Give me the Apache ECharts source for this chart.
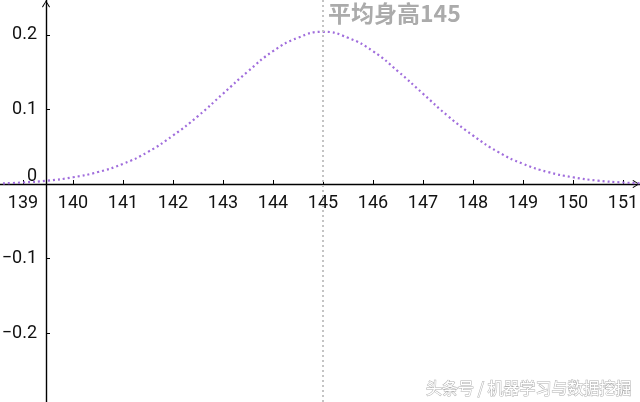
<!DOCTYPE html>
<html>
<head>
<meta charset="utf-8">
<script src="https://cdn.jsdelivr.net/npm/echarts@6/dist/echarts.min.js"></script>
<style>
html,body{margin:0;padding:0;background:#fff;}
#chart{width:640px;height:402px;}
</style>
</head>
<body>
<div id="chart"></div>
<script>
// x values (height) and density
const heights = [138.5,139,139.5,140,140.5,141,141.5,142,142.5,143,143.5,144,144.5,145,145.5,146,146.5,147,147.5,148,148.5,149,149.5,150,150.5,151,151.5];
const density = [0.0007,0.002,0.0045,0.009,0.016,0.027,0.043,0.065,0.091,0.121,0.151,0.178,0.196,0.204,0.196,0.178,0.151,0.121,0.091,0.065,0.043,0.027,0.016,0.009,0.0045,0.002,0.0007];
const xTicks = [139,140,141,142,143,144,145,146,147,148,149,150,151];
const yTicks = [-0.2,-0.1,0,0.1,0.2];
const meanValue = 145;
const titleText = '平均身高145';
const watermark = '头条号 / 机器学习与数据挖掘';

const chart = echarts.init(document.getElementById('chart'));
const arrowPath = 'path://M5,0 L10,8 L9,8.8 L5,1.8 L1,8.8 L0,8 Z';
chart.setOption({
  animation: false,
  backgroundColor: '#fff',
  grid: {left: 0, right: 0, top: 0, bottom: 0, containLabel: false, outerBoundsMode: 'none'},
  xAxis: {
    type: 'value',
    position: 'bottom',
    offset: -218,
    min: 138.54, max: 151.34,
    splitLine: {show: false},
    axisLine: {onZero: false, lineStyle: {color: '#000', width: 1.4}, symbol: ['none', arrowPath], symbolSize: [12, 7], symbolOffset: [0, -4]},
    axisTick: {show: true, inside: true, length: 4, customValues: xTicks, lineStyle: {color: '#000', width: 1}},
    axisLabel: {customValues: xTicks, color: '#111', fontSize: 18, fontFamily: 'Roboto', margin: 10}
  },
  yAxis: {
    type: 'value',
    min: -0.2922, max: 0.2466,
    offset: -46,
    splitLine: {show: false},
    axisLine: {show: true, lineStyle: {color: '#000', width: 1.4}, symbol: ['none', arrowPath], symbolSize: [12, 7], symbolOffset: [0, -4]},
    axisTick: {show: true, inside: true, length: 4, customValues: yTicks.filter(v => v !== 0), lineStyle: {color: '#000', width: 1}},
    axisLabel: {
      customValues: yTicks, color: '#111', fontSize: 18, fontFamily: 'Roboto', margin: 9,
      formatter: function (v) {
        if (Math.abs(v) < 1e-9) return '{z|0}';
        return (v < 0 ? '\u2212' : '') + Math.abs(v).toFixed(1);
      },
      rich: {z: {fontSize: 18, fontFamily: 'Roboto', color: '#111', padding: [0, 0, 14, 0]}}
    }
  },
  series: [{
    type: 'line',
    data: heights.map((h, i) => [h, density[i]]),
    smooth: true,
    showSymbol: false,
    lineStyle: {color: '#a06ddc', width: 2.2, type: [2, 3]},
    markLine: {
      silent: true,
      symbol: ['none', 'none'],
      label: {show: false},
      lineStyle: {color: '#c4c4c4', width: 2, type: [2, 3]},
      data: [{xAxis: meanValue}]
    }
  }],
  graphic: [
    {type: 'text', left: 328, top: 2, style: {text: titleText, fontSize: 23, fontWeight: 'bold', fontFamily: 'Noto Sans CJK SC', fill: '#ababab'}},
    {type: 'text', right: 8, bottom: 6, style: {text: watermark, fontSize: 16, fontFamily: 'Noto Sans CJK SC', fill: '#ffffff', stroke: 'rgba(120,120,120,0.6)', lineWidth: 1}}
  ]
});
</script>
</body>
</html>
